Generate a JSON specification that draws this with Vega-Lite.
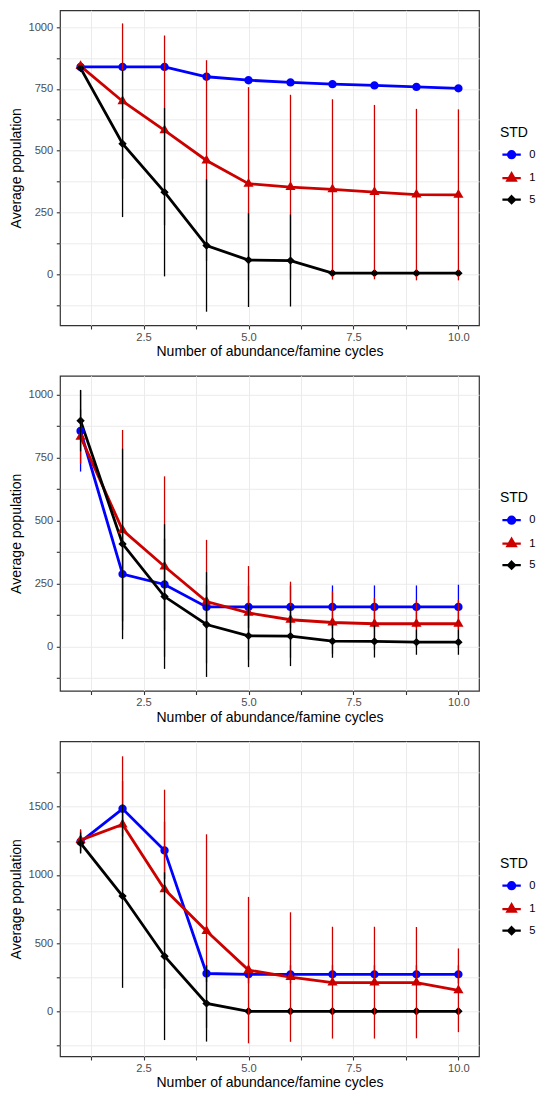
{
  "$schema": "https://vega.github.io/schema/vega-lite/v6.json",
  "padding": {"left": 9, "top": 9.3, "right": 59, "bottom": 0},
  "background": "white",
  "datasets": {
    "p1": [
      {"cycles":1,"STD":"0","mean":839,"lo":831,"hi":847},{"cycles":2,"STD":"0","mean":839,"lo":831,"hi":847},{"cycles":3,"STD":"0","mean":839,"lo":831,"hi":847},{"cycles":4,"STD":"0","mean":799,"lo":791,"hi":807},{"cycles":5,"STD":"0","mean":785,"lo":777,"hi":793},{"cycles":6,"STD":"0","mean":776,"lo":768,"hi":784},{"cycles":7,"STD":"0","mean":769,"lo":761,"hi":777},{"cycles":8,"STD":"0","mean":764,"lo":756,"hi":772},{"cycles":9,"STD":"0","mean":758,"lo":750,"hi":766},{"cycles":10,"STD":"0","mean":752,"lo":744,"hi":760},
      {"cycles":1,"STD":"1","mean":842,"lo":827,"hi":857},{"cycles":2,"STD":"1","mean":700,"lo":385,"hi":1015},{"cycles":3,"STD":"1","mean":582,"lo":198,"hi":966},{"cycles":4,"STD":"1","mean":460,"lo":54,"hi":866},{"cycles":5,"STD":"1","mean":366,"lo":-25,"hi":757},{"cycles":6,"STD":"1","mean":352,"lo":-22,"hi":726},{"cycles":7,"STD":"1","mean":343,"lo":-22,"hi":708},{"cycles":8,"STD":"1","mean":332,"lo":-21,"hi":685},{"cycles":9,"STD":"1","mean":322,"lo":-25,"hi":669},{"cycles":10,"STD":"1","mean":321,"lo":-25,"hi":667},
      {"cycles":1,"STD":"5","mean":834,"lo":824,"hi":844},{"cycles":2,"STD":"5","mean":528,"lo":231,"hi":825},{"cycles":3,"STD":"5","mean":332,"lo":-9,"hi":673},{"cycles":4,"STD":"5","mean":116,"lo":-152,"hi":384},{"cycles":5,"STD":"5","mean":57,"lo":-133,"hi":247},{"cycles":6,"STD":"5","mean":55,"lo":-131,"hi":241},{"cycles":7,"STD":"5","mean":4,"lo":-6,"hi":14},{"cycles":8,"STD":"5","mean":4,"lo":-6,"hi":14},{"cycles":9,"STD":"5","mean":4,"lo":-6,"hi":14},{"cycles":10,"STD":"5","mean":4,"lo":-6,"hi":14}
    ],
    "p2": [
      {"cycles":1,"STD":"0","mean":855,"lo":694,"hi":1016},{"cycles":2,"STD":"0","mean":287,"lo":100,"hi":474},{"cycles":3,"STD":"0","mean":246,"lo":64,"hi":428},{"cycles":4,"STD":"0","mean":157,"lo":71,"hi":243},{"cycles":5,"STD":"0","mean":157,"lo":73,"hi":241},{"cycles":6,"STD":"0","mean":157,"lo":72,"hi":242},{"cycles":7,"STD":"0","mean":157,"lo":72,"hi":242},{"cycles":8,"STD":"0","mean":157,"lo":72,"hi":242},{"cycles":9,"STD":"0","mean":157,"lo":72,"hi":242},{"cycles":10,"STD":"0","mean":157,"lo":69,"hi":245},
      {"cycles":1,"STD":"1","mean":832,"lo":724,"hi":940},{"cycles":2,"STD":"1","mean":462,"lo":65,"hi":859},{"cycles":3,"STD":"1","mean":317,"lo":-41,"hi":675},{"cycles":4,"STD":"1","mean":178,"lo":-67,"hi":423},{"cycles":5,"STD":"1","mean":133,"lo":-53,"hi":319},{"cycles":6,"STD":"1","mean":106,"lo":-45,"hi":257},{"cycles":7,"STD":"1","mean":95,"lo":-29,"hi":219},{"cycles":8,"STD":"1","mean":90,"lo":-13,"hi":193},{"cycles":9,"STD":"1","mean":90,"lo":-3,"hi":183},{"cycles":10,"STD":"1","mean":90,"lo":-5,"hi":185},
      {"cycles":1,"STD":"5","mean":896,"lo":774,"hi":1018},{"cycles":2,"STD":"5","mean":407,"lo":29,"hi":785},{"cycles":3,"STD":"5","mean":198,"lo":-89,"hi":485},{"cycles":4,"STD":"5","mean":87,"lo":-121,"hi":295},{"cycles":5,"STD":"5","mean":42,"lo":-82,"hi":166},{"cycles":6,"STD":"5","mean":41,"lo":-78,"hi":160},{"cycles":7,"STD":"5","mean":21,"lo":-45,"hi":87},{"cycles":8,"STD":"5","mean":20,"lo":-44,"hi":84},{"cycles":9,"STD":"5","mean":17,"lo":-33,"hi":67},{"cycles":10,"STD":"5","mean":17,"lo":-33,"hi":67}
    ],
    "p3": [
      {"cycles":1,"STD":"0","mean":1243,"lo":1161,"hi":1325},{"cycles":2,"STD":"0","mean":1485,"lo":1282,"hi":1688},{"cycles":3,"STD":"0","mean":1180,"lo":970,"hi":1390},{"cycles":4,"STD":"0","mean":277,"lo":215,"hi":339},{"cycles":5,"STD":"0","mean":271,"lo":205,"hi":337},{"cycles":6,"STD":"0","mean":271,"lo":204,"hi":338},{"cycles":7,"STD":"0","mean":271,"lo":204,"hi":338},{"cycles":8,"STD":"0","mean":271,"lo":204,"hi":338},{"cycles":9,"STD":"0","mean":271,"lo":204,"hi":338},{"cycles":10,"STD":"0","mean":271,"lo":204,"hi":338},
      {"cycles":1,"STD":"1","mean":1255,"lo":1175,"hi":1335},{"cycles":2,"STD":"1","mean":1370,"lo":870,"hi":1870},{"cycles":3,"STD":"1","mean":895,"lo":165,"hi":1625},{"cycles":4,"STD":"1","mean":588,"lo":-122,"hi":1298},{"cycles":5,"STD":"1","mean":302,"lo":-235,"hi":839},{"cycles":6,"STD":"1","mean":251,"lo":-224,"hi":726},{"cycles":7,"STD":"1","mean":210,"lo":-200,"hi":620},{"cycles":8,"STD":"1","mean":210,"lo":-200,"hi":620},{"cycles":9,"STD":"1","mean":210,"lo":-198,"hi":618},{"cycles":10,"STD":"1","mean":154,"lo":-153,"hi":461},
      {"cycles":1,"STD":"5","mean":1234,"lo":1157,"hi":1311},{"cycles":2,"STD":"5","mean":845,"lo":172,"hi":1518},{"cycles":3,"STD":"5","mean":404,"lo":-211,"hi":1019},{"cycles":4,"STD":"5","mean":58,"lo":-222,"hi":338},{"cycles":5,"STD":"5","mean":0,"lo":0,"hi":0},{"cycles":6,"STD":"5","mean":0,"lo":0,"hi":0},{"cycles":7,"STD":"5","mean":0,"lo":0,"hi":0},{"cycles":8,"STD":"5","mean":0,"lo":0,"hi":0},{"cycles":9,"STD":"5","mean":0,"lo":0,"hi":0},{"cycles":10,"STD":"5","mean":0,"lo":0,"hi":0}
    ]
  },
  "vconcat": [
    {
      "width": 419, "height": 315,
      "data": {"name": "p1"},
      "encoding": {
        "x": {"field": "cycles", "type": "quantitative", "title": "Number of abundance/famine cycles",
          "scale": {"domain": [0.51, 10.49], "nice": false, "zero": false},
          "axis": {"values": [1.25,2.5,3.75,5,6.25,7.5,8.75,10], "labelExpr": "datum.value % 2.5 === 0 ? format(datum.value, '.1f') : ''",
            "encode": {"ticks": {"update": {"opacity": {"signal": "datum.value % 2.5 === 0 ? 1 : 0"}}},
                       "grid": {"update": {"strokeWidth": {"signal": "datum.value % 2.5 === 0 ? 1.3 : 0.7"}}}}}},
        "y": {"field": "mean", "type": "quantitative", "title": "Average population",
          "scale": {"domain": [-207, 1068], "nice": false, "zero": false},
          "axis": {"values": [-125,0,125,250,375,500,625,750,875,1000], "labelExpr": "datum.value % 250 === 0 ? format(datum.value, 'd') : ''",
            "encode": {"ticks": {"update": {"opacity": {"signal": "datum.value % 250 === 0 ? 1 : 0"}}},
                       "grid": {"update": {"strokeWidth": {"signal": "datum.value % 250 === 0 ? 1.3 : 0.7"}}}}}},
        "color": {"field": "STD", "type": "nominal", "scale": {"domain": ["0","1","5"], "range": ["#0000FF","#CD0000","#000000"]}, "legend": {"title": "STD", "titleFontWeight": "normal", "orient": "none", "legendX": 440, "legendY": 115.5}}
      },
      "layer": [
        {"mark": {"type": "line", "strokeWidth": 2.8}},
        {"mark": {"type": "point", "filled": true, "size": 70, "strokeWidth": 0, "opacity": 1},
         "encoding": {
          "stroke": {"field": "STD", "type": "nominal", "scale": {"domain": ["0","1","5"], "range": ["#0000FF","#CD0000","#000000"]}, "legend": {"title": "STD", "titleFontWeight": "normal", "orient": "none", "legendX": 440, "legendY": 115.5}},
          "shape": {"field": "STD", "type": "nominal", "scale": {"domain": ["0","1","5"], "range": ["M1,0A1,1,0,1,1,-1,0A1,1,0,1,1,1,0Z M-2.6,0H2.6", "M0,-1.4L1.21,0.7L-1.21,0.7Z M-2.6,0H2.6", "M0,-1L1,0L0,1L-1,0Z M-2.6,0H2.6"]}, "legend": {"title": "STD", "titleFontWeight": "normal", "orient": "none", "legendX": 440, "legendY": 115.5}}}},
        {"mark": {"type": "rule", "strokeWidth": 1.3},
         "encoding": {"y": {"field": "lo", "type": "quantitative", "title": "Average population"}, "y2": {"field": "hi"}}}
      ]
    },
    {
      "width": 419, "height": 315,
      "data": {"name": "p2"},
      "encoding": {
        "x": {"field": "cycles", "type": "quantitative", "title": "Number of abundance/famine cycles",
          "scale": {"domain": [0.51, 10.49], "nice": false, "zero": false},
          "axis": {"values": [1.25,2.5,3.75,5,6.25,7.5,8.75,10], "labelExpr": "datum.value % 2.5 === 0 ? format(datum.value, '.1f') : ''",
            "encode": {"ticks": {"update": {"opacity": {"signal": "datum.value % 2.5 === 0 ? 1 : 0"}}},
                       "grid": {"update": {"strokeWidth": {"signal": "datum.value % 2.5 === 0 ? 1.3 : 0.7"}}}}}},
        "y": {"field": "mean", "type": "quantitative", "title": "Average population",
          "scale": {"domain": [-176, 1074], "nice": false, "zero": false},
          "axis": {"values": [-125,0,125,250,375,500,625,750,875,1000], "labelExpr": "datum.value % 250 === 0 ? format(datum.value, 'd') : ''",
            "encode": {"ticks": {"update": {"opacity": {"signal": "datum.value % 250 === 0 ? 1 : 0"}}},
                       "grid": {"update": {"strokeWidth": {"signal": "datum.value % 250 === 0 ? 1.3 : 0.7"}}}}}},
        "color": {"field": "STD", "type": "nominal", "scale": {"domain": ["0","1","5"], "range": ["#0000FF","#CD0000","#000000"]}, "legend": {"title": "STD", "titleFontWeight": "normal", "orient": "none", "legendX": 440, "legendY": 115.5}}
      },
      "layer": [
        {"mark": {"type": "line", "strokeWidth": 2.8}},
        {"mark": {"type": "point", "filled": true, "size": 70, "strokeWidth": 0, "opacity": 1},
         "encoding": {
          "stroke": {"field": "STD", "type": "nominal", "scale": {"domain": ["0","1","5"], "range": ["#0000FF","#CD0000","#000000"]}, "legend": {"title": "STD", "titleFontWeight": "normal", "orient": "none", "legendX": 440, "legendY": 115.5}},
          "shape": {"field": "STD", "type": "nominal", "scale": {"domain": ["0","1","5"], "range": ["M1,0A1,1,0,1,1,-1,0A1,1,0,1,1,1,0Z M-2.6,0H2.6", "M0,-1.4L1.21,0.7L-1.21,0.7Z M-2.6,0H2.6", "M0,-1L1,0L0,1L-1,0Z M-2.6,0H2.6"]}, "legend": {"title": "STD", "titleFontWeight": "normal", "orient": "none", "legendX": 440, "legendY": 115.5}}}},
        {"mark": {"type": "rule", "strokeWidth": 1.3},
         "encoding": {"y": {"field": "lo", "type": "quantitative", "title": "Average population"}, "y2": {"field": "hi"}}}
      ]
    },
    {
      "width": 419, "height": 315,
      "data": {"name": "p3"},
      "encoding": {
        "x": {"field": "cycles", "type": "quantitative", "title": "Number of abundance/famine cycles",
          "scale": {"domain": [0.51, 10.49], "nice": false, "zero": false},
          "axis": {"values": [1.25,2.5,3.75,5,6.25,7.5,8.75,10], "labelExpr": "datum.value % 2.5 === 0 ? format(datum.value, '.1f') : ''",
            "encode": {"ticks": {"update": {"opacity": {"signal": "datum.value % 2.5 === 0 ? 1 : 0"}}},
                       "grid": {"update": {"strokeWidth": {"signal": "datum.value % 2.5 === 0 ? 1.3 : 0.7"}}}}}},
        "y": {"field": "mean", "type": "quantitative", "title": "Average population",
          "scale": {"domain": [-330, 1980], "nice": false, "zero": false},
          "axis": {"values": [-250,0,250,500,750,1000,1250,1500,1750], "labelExpr": "datum.value % 500 === 0 ? format(datum.value, 'd') : ''",
            "encode": {"ticks": {"update": {"opacity": {"signal": "datum.value % 500 === 0 ? 1 : 0"}}},
                       "grid": {"update": {"strokeWidth": {"signal": "datum.value % 500 === 0 ? 1.3 : 0.7"}}}}}},
        "color": {"field": "STD", "type": "nominal", "scale": {"domain": ["0","1","5"], "range": ["#0000FF","#CD0000","#000000"]}, "legend": {"title": "STD", "titleFontWeight": "normal", "orient": "none", "legendX": 440, "legendY": 115.5}}
      },
      "layer": [
        {"mark": {"type": "line", "strokeWidth": 2.8}},
        {"mark": {"type": "point", "filled": true, "size": 70, "strokeWidth": 0, "opacity": 1},
         "encoding": {
          "stroke": {"field": "STD", "type": "nominal", "scale": {"domain": ["0","1","5"], "range": ["#0000FF","#CD0000","#000000"]}, "legend": {"title": "STD", "titleFontWeight": "normal", "orient": "none", "legendX": 440, "legendY": 115.5}},
          "shape": {"field": "STD", "type": "nominal", "scale": {"domain": ["0","1","5"], "range": ["M1,0A1,1,0,1,1,-1,0A1,1,0,1,1,1,0Z M-2.6,0H2.6", "M0,-1.4L1.21,0.7L-1.21,0.7Z M-2.6,0H2.6", "M0,-1L1,0L0,1L-1,0Z M-2.6,0H2.6"]}, "legend": {"title": "STD", "titleFontWeight": "normal", "orient": "none", "legendX": 440, "legendY": 115.5}}}},
        {"mark": {"type": "rule", "strokeWidth": 1.3},
         "encoding": {"y": {"field": "lo", "type": "quantitative", "title": "Average population"}, "y2": {"field": "hi"}}}
      ]
    }
  ],
  "spacing": 50.5,
  "bounds": "flush",
  "resolve": {
    "scale": {"x": "independent", "y": "independent", "color": "independent", "stroke": "independent", "shape": "independent"},
    "axis": {"x": "independent", "y": "independent"},
    "legend": {"color": "independent", "stroke": "independent", "shape": "independent"}
  },
  "config": {
    "font": "Liberation Sans",
    "view": {"stroke": "#333333", "strokeWidth": 1.2},
    "axis": {"domain": false, "grid": true, "gridColor": "#EBEBEB", "tickColor": "#333333", "tickSize": 3.7, "tickWidth": 1.1,
      "labelFont": "Liberation Sans", "labelFontSize": 11.2, "labelColor": "#4D4D4D", "labelPadding": 3,
      "titleFont": "Liberation Sans", "titleFontSize": 14, "titleFontWeight": "normal", "titleColor": "#000000"},
    "axisX": {"titlePadding": 2, "labelPadding": 2.5},
    "axisY": {"titlePadding": 4, "labelPadding": 3.5},
    "legend": {"padding": 0, "titleFont": "Liberation Sans", "titleFontSize": 14, "titleFontWeight": "normal", "titleColor": "#000000",
      "labelFont": "Liberation Sans", "labelFontSize": 11.2, "labelColor": "#000000",
      "symbolSize": 50, "symbolStrokeWidth": 2.2, "symbolOpacity": 1, "symbolOffset": 6, "labelOffset": 12, "rowPadding": 5.5, "titlePadding": 9.3}
  }
}
